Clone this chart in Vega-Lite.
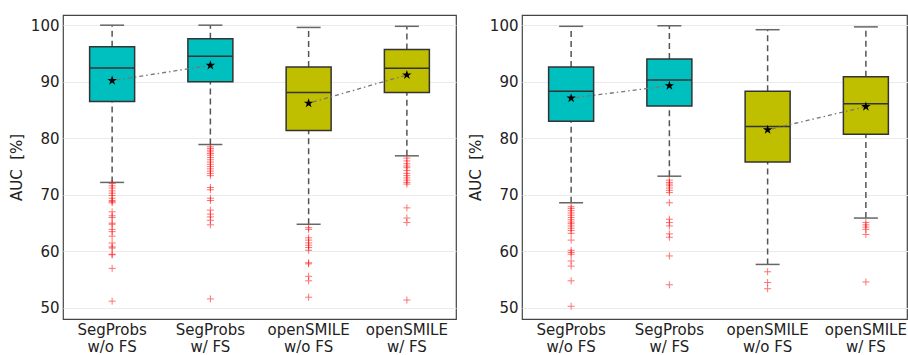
{
  "$schema": "https://vega.github.io/schema/vega-lite/v6.json",
  "padding": {"left": 8, "top": 14, "right": 0, "bottom": 0},
  "spacing": 10,
  "config": {
    "font": "DejaVu Sans",
    "view": {"stroke": "#444", "strokeWidth": 1.2},
    "axis": {"labelFont": "DejaVu Sans", "titleFont": "DejaVu Sans", "labelColor": "#222", "titleColor": "#222", "labelFontSize": 15, "titleFontSize": 15, "titleFontWeight": "normal", "domain": false, "ticks": false}
  },
  "datasets": {
    "stats": [
      {"panel": "A", "method": "SegProbs w/o FS", "family": "SegProbs", "lo": 72.2, "q1": 86.5, "median": 92.45, "q3": 96.2, "hi": 100.0, "mean": 90.2},
      {"panel": "A", "method": "SegProbs w/ FS", "family": "SegProbs", "lo": 78.9, "q1": 90.0, "median": 94.5, "q3": 97.6, "hi": 100.0, "mean": 92.9},
      {"panel": "A", "method": "openSMILE w/o FS", "family": "openSMILE", "lo": 64.8, "q1": 81.4, "median": 88.1, "q3": 92.6, "hi": 99.6, "mean": 86.2},
      {"panel": "A", "method": "openSMILE w/ FS", "family": "openSMILE", "lo": 76.9, "q1": 88.1, "median": 92.4, "q3": 95.7, "hi": 99.8, "mean": 91.2},
      {"panel": "B", "method": "SegProbs w/o FS", "family": "SegProbs", "lo": 68.6, "q1": 83.0, "median": 88.3, "q3": 92.6, "hi": 99.8, "mean": 87.1},
      {"panel": "B", "method": "SegProbs w/ FS", "family": "SegProbs", "lo": 73.3, "q1": 85.7, "median": 90.3, "q3": 94.0, "hi": 99.9, "mean": 89.3},
      {"panel": "B", "method": "openSMILE w/o FS", "family": "openSMILE", "lo": 57.7, "q1": 75.8, "median": 82.1, "q3": 88.3, "hi": 99.2, "mean": 81.5},
      {"panel": "B", "method": "openSMILE w/ FS", "family": "openSMILE", "lo": 65.9, "q1": 80.7, "median": 86.1, "q3": 90.9, "hi": 99.7, "mean": 85.6}
    ],
    "outliers": [
      {"panel": "A", "method": "SegProbs w/o FS", "v": 72.0}, {"panel": "A", "method": "SegProbs w/o FS", "v": 71.6}, {"panel": "A", "method": "SegProbs w/o FS", "v": 71.2}, {"panel": "A", "method": "SegProbs w/o FS", "v": 70.7}, {"panel": "A", "method": "SegProbs w/o FS", "v": 70.3}, {"panel": "A", "method": "SegProbs w/o FS", "v": 69.9}, {"panel": "A", "method": "SegProbs w/o FS", "v": 69.4}, {"panel": "A", "method": "SegProbs w/o FS", "v": 69.0}, {"panel": "A", "method": "SegProbs w/o FS", "v": 68.8}, {"panel": "A", "method": "SegProbs w/o FS", "v": 68.6}, {"panel": "A", "method": "SegProbs w/o FS", "v": 67.0}, {"panel": "A", "method": "SegProbs w/o FS", "v": 66.3}, {"panel": "A", "method": "SegProbs w/o FS", "v": 66.0}, {"panel": "A", "method": "SegProbs w/o FS", "v": 65.0}, {"panel": "A", "method": "SegProbs w/o FS", "v": 64.8}, {"panel": "A", "method": "SegProbs w/o FS", "v": 63.9}, {"panel": "A", "method": "SegProbs w/o FS", "v": 63.5}, {"panel": "A", "method": "SegProbs w/o FS", "v": 62.7}, {"panel": "A", "method": "SegProbs w/o FS", "v": 61.5}, {"panel": "A", "method": "SegProbs w/o FS", "v": 60.8}, {"panel": "A", "method": "SegProbs w/o FS", "v": 60.6}, {"panel": "A", "method": "SegProbs w/o FS", "v": 59.5}, {"panel": "A", "method": "SegProbs w/o FS", "v": 59.4}, {"panel": "A", "method": "SegProbs w/o FS", "v": 57.0}, {"panel": "A", "method": "SegProbs w/o FS", "v": 51.2},
      {"panel": "A", "method": "SegProbs w/ FS", "v": 78.5}, {"panel": "A", "method": "SegProbs w/ FS", "v": 78.2}, {"panel": "A", "method": "SegProbs w/ FS", "v": 77.9}, {"panel": "A", "method": "SegProbs w/ FS", "v": 77.6}, {"panel": "A", "method": "SegProbs w/ FS", "v": 77.3}, {"panel": "A", "method": "SegProbs w/ FS", "v": 77.0}, {"panel": "A", "method": "SegProbs w/ FS", "v": 76.6}, {"panel": "A", "method": "SegProbs w/ FS", "v": 76.2}, {"panel": "A", "method": "SegProbs w/ FS", "v": 75.8}, {"panel": "A", "method": "SegProbs w/ FS", "v": 75.4}, {"panel": "A", "method": "SegProbs w/ FS", "v": 75.0}, {"panel": "A", "method": "SegProbs w/ FS", "v": 74.6}, {"panel": "A", "method": "SegProbs w/ FS", "v": 74.2}, {"panel": "A", "method": "SegProbs w/ FS", "v": 73.8}, {"panel": "A", "method": "SegProbs w/ FS", "v": 73.4}, {"panel": "A", "method": "SegProbs w/ FS", "v": 71.3}, {"panel": "A", "method": "SegProbs w/ FS", "v": 70.9}, {"panel": "A", "method": "SegProbs w/ FS", "v": 69.4}, {"panel": "A", "method": "SegProbs w/ FS", "v": 69.0}, {"panel": "A", "method": "SegProbs w/ FS", "v": 67.3}, {"panel": "A", "method": "SegProbs w/ FS", "v": 66.6}, {"panel": "A", "method": "SegProbs w/ FS", "v": 66.1}, {"panel": "A", "method": "SegProbs w/ FS", "v": 65.5}, {"panel": "A", "method": "SegProbs w/ FS", "v": 64.7}, {"panel": "A", "method": "SegProbs w/ FS", "v": 51.6},
      {"panel": "A", "method": "openSMILE w/o FS", "v": 64.2}, {"panel": "A", "method": "openSMILE w/o FS", "v": 63.9}, {"panel": "A", "method": "openSMILE w/o FS", "v": 62.4}, {"panel": "A", "method": "openSMILE w/o FS", "v": 62.0}, {"panel": "A", "method": "openSMILE w/o FS", "v": 61.5}, {"panel": "A", "method": "openSMILE w/o FS", "v": 61.1}, {"panel": "A", "method": "openSMILE w/o FS", "v": 60.7}, {"panel": "A", "method": "openSMILE w/o FS", "v": 60.2}, {"panel": "A", "method": "openSMILE w/o FS", "v": 58.0}, {"panel": "A", "method": "openSMILE w/o FS", "v": 57.8}, {"panel": "A", "method": "openSMILE w/o FS", "v": 55.6}, {"panel": "A", "method": "openSMILE w/o FS", "v": 54.8}, {"panel": "A", "method": "openSMILE w/o FS", "v": 51.9},
      {"panel": "A", "method": "openSMILE w/ FS", "v": 76.5}, {"panel": "A", "method": "openSMILE w/ FS", "v": 76.0}, {"panel": "A", "method": "openSMILE w/ FS", "v": 75.5}, {"panel": "A", "method": "openSMILE w/ FS", "v": 75.1}, {"panel": "A", "method": "openSMILE w/ FS", "v": 74.8}, {"panel": "A", "method": "openSMILE w/ FS", "v": 74.3}, {"panel": "A", "method": "openSMILE w/ FS", "v": 73.8}, {"panel": "A", "method": "openSMILE w/ FS", "v": 73.4}, {"panel": "A", "method": "openSMILE w/ FS", "v": 73.0}, {"panel": "A", "method": "openSMILE w/ FS", "v": 72.6}, {"panel": "A", "method": "openSMILE w/ FS", "v": 72.2}, {"panel": "A", "method": "openSMILE w/ FS", "v": 71.9}, {"panel": "A", "method": "openSMILE w/ FS", "v": 67.7}, {"panel": "A", "method": "openSMILE w/ FS", "v": 65.9}, {"panel": "A", "method": "openSMILE w/ FS", "v": 65.1}, {"panel": "A", "method": "openSMILE w/ FS", "v": 51.4},
      {"panel": "B", "method": "SegProbs w/o FS", "v": 67.9}, {"panel": "B", "method": "SegProbs w/o FS", "v": 67.6}, {"panel": "B", "method": "SegProbs w/o FS", "v": 67.2}, {"panel": "B", "method": "SegProbs w/o FS", "v": 66.8}, {"panel": "B", "method": "SegProbs w/o FS", "v": 66.4}, {"panel": "B", "method": "SegProbs w/o FS", "v": 66.0}, {"panel": "B", "method": "SegProbs w/o FS", "v": 65.6}, {"panel": "B", "method": "SegProbs w/o FS", "v": 65.2}, {"panel": "B", "method": "SegProbs w/o FS", "v": 64.9}, {"panel": "B", "method": "SegProbs w/o FS", "v": 64.5}, {"panel": "B", "method": "SegProbs w/o FS", "v": 64.1}, {"panel": "B", "method": "SegProbs w/o FS", "v": 63.7}, {"panel": "B", "method": "SegProbs w/o FS", "v": 63.2}, {"panel": "B", "method": "SegProbs w/o FS", "v": 62.0}, {"panel": "B", "method": "SegProbs w/o FS", "v": 60.2}, {"panel": "B", "method": "SegProbs w/o FS", "v": 59.8}, {"panel": "B", "method": "SegProbs w/o FS", "v": 59.5}, {"panel": "B", "method": "SegProbs w/o FS", "v": 58.3}, {"panel": "B", "method": "SegProbs w/o FS", "v": 57.4}, {"panel": "B", "method": "SegProbs w/o FS", "v": 54.8}, {"panel": "B", "method": "SegProbs w/o FS", "v": 50.3},
      {"panel": "B", "method": "SegProbs w/ FS", "v": 72.6}, {"panel": "B", "method": "SegProbs w/ FS", "v": 72.2}, {"panel": "B", "method": "SegProbs w/ FS", "v": 71.9}, {"panel": "B", "method": "SegProbs w/ FS", "v": 71.6}, {"panel": "B", "method": "SegProbs w/ FS", "v": 71.2}, {"panel": "B", "method": "SegProbs w/ FS", "v": 70.8}, {"panel": "B", "method": "SegProbs w/ FS", "v": 70.4}, {"panel": "B", "method": "SegProbs w/ FS", "v": 68.6}, {"panel": "B", "method": "SegProbs w/ FS", "v": 65.7}, {"panel": "B", "method": "SegProbs w/ FS", "v": 65.1}, {"panel": "B", "method": "SegProbs w/ FS", "v": 64.5}, {"panel": "B", "method": "SegProbs w/ FS", "v": 63.1}, {"panel": "B", "method": "SegProbs w/ FS", "v": 62.5}, {"panel": "B", "method": "SegProbs w/ FS", "v": 59.2}, {"panel": "B", "method": "SegProbs w/ FS", "v": 54.1},
      {"panel": "B", "method": "openSMILE w/o FS", "v": 56.4}, {"panel": "B", "method": "openSMILE w/o FS", "v": 54.5}, {"panel": "B", "method": "openSMILE w/o FS", "v": 53.4},
      {"panel": "B", "method": "openSMILE w/ FS", "v": 65.1}, {"panel": "B", "method": "openSMILE w/ FS", "v": 64.7}, {"panel": "B", "method": "openSMILE w/ FS", "v": 64.3}, {"panel": "B", "method": "openSMILE w/ FS", "v": 63.9}, {"panel": "B", "method": "openSMILE w/ FS", "v": 63.0}, {"panel": "B", "method": "openSMILE w/ FS", "v": 54.6}
    ]
  },
  "hconcat": [
    {
      "width": 393, "height": 304,
      "data": {"name": "stats"},
      "transform": [{"filter": "datum.panel == 'A'"}],
      "encoding": {
        "x": {"field": "method", "type": "nominal", "title": null,
          "scale": {"domain": ["SegProbs w/o FS", "SegProbs w/ FS", "openSMILE w/o FS", "openSMILE w/ FS"], "paddingInner": 0, "paddingOuter": 0},
          "axis": {"labelAngle": 0, "labelPadding": 3, "labelLineHeight": 17, "labelBaseline": "top", "labelExpr": "[substring(datum.label, 0, indexof(datum.label, ' ')), substring(datum.label, indexof(datum.label, ' ') + 1)]"}}
      },
      "layer": [
        {"mark": {"type": "rule", "strokeDash": [6, 4], "color": "#555", "strokeWidth": 1.5},
         "encoding": {"y": {"field": "q3", "type": "quantitative", "title": "AUC\u00a0\u00a0[%]", "scale": {"domain": [48.05, 101.8], "nice": false, "zero": false}, "axis": {"values": [50, 60, 70, 80, 90, 100], "grid": true, "gridColor": "#ebebeb", "labelPadding": 4, "titlePadding": 6}}, "y2": {"field": "hi"}}},
        {"mark": {"type": "rule", "strokeDash": [6, 4], "color": "#555", "strokeWidth": 1.5},
         "encoding": {"y": {"field": "lo", "type": "quantitative", "scale": {"domain": [48.05, 101.8], "nice": false, "zero": false}}, "y2": {"field": "q1"}}},
        {"mark": {"type": "tick", "size": 24, "thickness": 1.5, "color": "#666", "opacity": 1},
         "encoding": {"y": {"field": "hi", "type": "quantitative", "scale": {"domain": [48.05, 101.8], "nice": false, "zero": false}}}},
        {"mark": {"type": "tick", "size": 24, "thickness": 1.5, "color": "#666", "opacity": 1},
         "encoding": {"y": {"field": "lo", "type": "quantitative", "scale": {"domain": [48.05, 101.8], "nice": false, "zero": false}}}},
        {"mark": {"type": "bar", "size": 45, "stroke": "#333", "strokeWidth": 1.5},
         "encoding": {"y": {"field": "q1", "type": "quantitative", "scale": {"domain": [48.05, 101.8], "nice": false, "zero": false}}, "y2": {"field": "q3"},
           "color": {"field": "family", "type": "nominal", "scale": {"domain": ["SegProbs", "openSMILE"], "range": ["#00bfbf", "#bfbf00"]}, "legend": null}}},
        {"mark": {"type": "tick", "size": 45, "thickness": 1.5, "color": "#333", "opacity": 1},
         "encoding": {"y": {"field": "median", "type": "quantitative", "scale": {"domain": [48.05, 101.8], "nice": false, "zero": false}}}},
        {"mark": {"type": "line", "strokeDash": [1.5, 3, 4, 3], "color": "#777", "strokeWidth": 1.3},
         "encoding": {"y": {"field": "mean", "type": "quantitative", "scale": {"domain": [48.05, 101.8], "nice": false, "zero": false}}, "detail": {"field": "family"}}},
        {"data": {"name": "outliers"}, "transform": [{"filter": "datum.panel == 'A'"}],
         "mark": {"type": "point", "shape": "M-1,0L1,0M0,-1L0,1", "size": 49, "color": "#ff0000", "filled": false, "opacity": 0.55, "strokeWidth": 1},
         "encoding": {"y": {"field": "v", "type": "quantitative", "scale": {"domain": [48.05, 101.8], "nice": false, "zero": false}}}},
        {"mark": {"type": "point", "shape": "M0,-1L0.225,-0.309L0.951,-0.309L0.363,0.118L0.588,0.809L0,0.382L-0.588,0.809L-0.363,0.118L-0.951,-0.309L-0.225,-0.309Z", "size": 100, "color": "#000", "filled": true, "opacity": 1},
         "encoding": {"y": {"field": "mean", "type": "quantitative", "scale": {"domain": [48.05, 101.8], "nice": false, "zero": false}}}}
      ]
    },
    {
      "width": 385, "height": 304,
      "data": {"name": "stats"},
      "transform": [{"filter": "datum.panel == 'B'"}],
      "encoding": {
        "x": {"field": "method", "type": "nominal", "title": null,
          "scale": {"domain": ["SegProbs w/o FS", "SegProbs w/ FS", "openSMILE w/o FS", "openSMILE w/ FS"], "paddingInner": 0, "paddingOuter": 0, "range": [0, 393]},
          "axis": {"labelAngle": 0, "labelPadding": 3, "labelLineHeight": 17, "labelBaseline": "top", "labelExpr": "[substring(datum.label, 0, indexof(datum.label, ' ')), substring(datum.label, indexof(datum.label, ' ') + 1)]"}}
      },
      "layer": [
        {"mark": {"type": "rule", "strokeDash": [6, 4], "color": "#555", "strokeWidth": 1.5},
         "encoding": {"y": {"field": "q3", "type": "quantitative", "title": "AUC\u00a0\u00a0[%]", "scale": {"domain": [48.05, 101.8], "nice": false, "zero": false}, "axis": {"values": [50, 60, 70, 80, 90, 100], "grid": true, "gridColor": "#ebebeb", "labelPadding": 4, "titlePadding": 6}}, "y2": {"field": "hi"}}},
        {"mark": {"type": "rule", "strokeDash": [6, 4], "color": "#555", "strokeWidth": 1.5},
         "encoding": {"y": {"field": "lo", "type": "quantitative", "scale": {"domain": [48.05, 101.8], "nice": false, "zero": false}}, "y2": {"field": "q1"}}},
        {"mark": {"type": "tick", "size": 24, "thickness": 1.5, "color": "#666", "opacity": 1},
         "encoding": {"y": {"field": "hi", "type": "quantitative", "scale": {"domain": [48.05, 101.8], "nice": false, "zero": false}}}},
        {"mark": {"type": "tick", "size": 24, "thickness": 1.5, "color": "#666", "opacity": 1},
         "encoding": {"y": {"field": "lo", "type": "quantitative", "scale": {"domain": [48.05, 101.8], "nice": false, "zero": false}}}},
        {"mark": {"type": "bar", "size": 45, "stroke": "#333", "strokeWidth": 1.5},
         "encoding": {"y": {"field": "q1", "type": "quantitative", "scale": {"domain": [48.05, 101.8], "nice": false, "zero": false}}, "y2": {"field": "q3"},
           "color": {"field": "family", "type": "nominal", "scale": {"domain": ["SegProbs", "openSMILE"], "range": ["#00bfbf", "#bfbf00"]}, "legend": null}}},
        {"mark": {"type": "tick", "size": 45, "thickness": 1.5, "color": "#333", "opacity": 1},
         "encoding": {"y": {"field": "median", "type": "quantitative", "scale": {"domain": [48.05, 101.8], "nice": false, "zero": false}}}},
        {"mark": {"type": "line", "strokeDash": [1.5, 3, 4, 3], "color": "#777", "strokeWidth": 1.3},
         "encoding": {"y": {"field": "mean", "type": "quantitative", "scale": {"domain": [48.05, 101.8], "nice": false, "zero": false}}, "detail": {"field": "family"}}},
        {"data": {"name": "outliers"}, "transform": [{"filter": "datum.panel == 'B'"}],
         "mark": {"type": "point", "shape": "M-1,0L1,0M0,-1L0,1", "size": 49, "color": "#ff0000", "filled": false, "opacity": 0.55, "strokeWidth": 1},
         "encoding": {"y": {"field": "v", "type": "quantitative", "scale": {"domain": [48.05, 101.8], "nice": false, "zero": false}}}},
        {"mark": {"type": "point", "shape": "M0,-1L0.225,-0.309L0.951,-0.309L0.363,0.118L0.588,0.809L0,0.382L-0.588,0.809L-0.363,0.118L-0.951,-0.309L-0.225,-0.309Z", "size": 100, "color": "#000", "filled": true, "opacity": 1},
         "encoding": {"y": {"field": "mean", "type": "quantitative", "scale": {"domain": [48.05, 101.8], "nice": false, "zero": false}}}}
      ]
    }
  ]
}
